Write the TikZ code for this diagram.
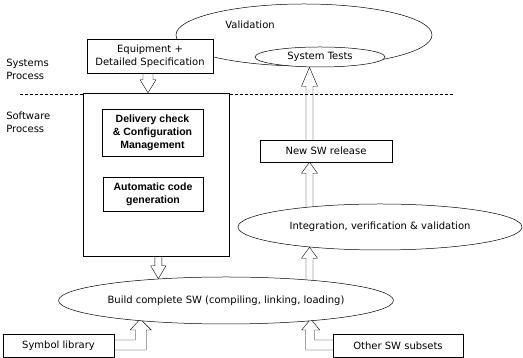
\documentclass[tikz,border=0pt]{standalone}
\usepackage{fontspec}
\setmainfont{DejaVu Sans}
\newfontfamily\boldfam{Liberation Sans}
\usetikzlibrary{shapes.geometric,backgrounds,calc}
\begin{document}
\begin{tikzpicture}[x=1pt,y=1pt,
  font=\fontsize{10}{13}\selectfont,
  line width=0.5pt,
  box/.style={draw, fill=white, rectangle, inner sep=0pt, align=center},
  ell/.style={draw, fill=white, ellipse, inner sep=0pt},
  boldbox/.style={box, font=\boldfam\bfseries\fontsize{10.5}{13}\selectfont},
  harrow/.style={draw, fill=white, line join=miter},
  lbl/.style={inner sep=0pt, align=left, anchor=west}]
\useasboundingbox (0,0) rectangle (523,358);

% labels
\node[lbl] (sysp) at (6,289) {Systems\\Process};
\node[lbl] (swp) at (6,235.5) {Software\\Process};

% validation
\node[draw, ellipse, minimum width=256, minimum height=62, inner sep=0pt] (valid) at (304,323) {};
\node[inner sep=0pt] (validtxt) at (250,333) {Validation};
\node[ell, minimum width=130, minimum height=20] (systests) at (320,301) {System Tests};
\node[box, minimum width=126, minimum height=34] (equip) at (150,302) {Equipment +\\Detailed Specification};

% dashed separator
\coordinate (dl) at (20,264);
\coordinate (dr) at (453,264);
\draw[dashed, dash pattern=on 3pt off 2pt] (dl) -- (dr);

% software box
\node[box, minimum width=146, minimum height=163] (big) at (156,183.5) {};
\node[boldbox, minimum width=101, minimum height=47] (deliv) at (152.5,225.5) {Delivery check\\\& Configuration\\Management};
\node[boldbox, minimum width=100, minimum height=34] (auto) at (153,164) {Automatic code\\generation};

% other nodes
\node[ell, minimum width=288, minimum height=47] (build) at (226,57.5) {Build complete SW (compiling, linking, loading)};
\node[ell, minimum width=284, minimum height=46] (integ) at (380,131) {Integration, verification \& validation};
\node[box, minimum width=132, minimum height=22] (newsw) at (326,207) {New SW release};
\node[box, minimum width=111, minimum height=23] (symlib) at (58.5,12.5) {Symbol library};
\node[box, minimum width=130, minimum height=23] (other) at (398,12.5) {Other SW subsets};

\begin{pgfonlayer}{background}
% equip -> big (down)
\draw[harrow] let \p1=($(equip.south)+(-2,0)$), \p2=($(big.north)+(-8,0)$) in
  (\x1-5,\y1) -- (\x1-5,\y2+13) -- (\x1-8,\y2+13) -- (\x1,\y2) -- (\x1+8,\y2+13) -- (\x1+5,\y2+13) -- (\x1+5,\y1);
% big -> build (down)
\draw[harrow] let \p1=($(big.south)+(2.3,0)$), \p2=($(build.north)+(-68,-2)$) in
  (\x1-3.5,\y1) -- (\x1-3.5,\y2+13) -- (\x1-7.7,\y2+13) -- (\x1,\y2) -- (\x1+7.7,\y2+13) -- (\x1+3.5,\y2+13) -- (\x1+3.5,\y1);
% build -> integ (up)
\draw[harrow] let \p1=($(build.north)+(83.5,-5)$), \p2=($(integ.south)+(-70.5,3)$) in
  (\x1-3.5,\y1) -- (\x1-3.5,\y2-11) -- (\x1-8,\y2-11) -- (\x1,\y2) -- (\x1+8,\y2-11) -- (\x1+3.5,\y2-11) -- (\x1+3.5,\y1);
% integ -> newsw (up)
\draw[harrow] let \p1=($(integ.north)+(-70.5,-5)$), \p2=($(newsw.south)+(-16.5,0)$) in
  (\x1-3.5,\y1) -- (\x1-3.5,\y2-11) -- (\x1-8,\y2-11) -- (\x1,\y2) -- (\x1+8,\y2-11) -- (\x1+3.5,\y2-11) -- (\x1+3.5,\y1);
% newsw -> systests (up)
\draw[harrow] let \p1=($(newsw.north)+(-16.5,-2)$), \p2=($(systests.south)+(-10.5,0)$) in
  (\x1-3.5,\y1) -- (\x1-3.5,\y2-19) -- (\x1-8,\y2-19) -- (\x1,\y2) -- (\x1+8,\y2-19) -- (\x1+3.5,\y2-19) -- (\x1+3.5,\y1);
% symbol library -> build (elbow)
\draw[harrow] let \p1=($(symlib.east)+(-1,0)$) in
  (\x1,\y1-4.5) -- (\x1+33,\y1-4.5) -- (\x1+33,\y1+15.5) -- (\x1+38,\y1+15.5) -- (\x1+27,\y1+26.5)
  -- (\x1+17,\y1+15.5) -- (\x1+22,\y1+15.5) -- (\x1+22,\y1+5.5) -- (\x1,\y1+5.5);
% other subsets -> build (elbow)
\draw[harrow] let \p1=($(other.west)+(1,0)$) in
  (\x1,\y1-4.5) -- (\x1-28,\y1-4.5) -- (\x1-28,\y1+15.5) -- (\x1-32,\y1+15.5) -- (\x1-23,\y1+26.5)
  -- (\x1-14,\y1+15.5) -- (\x1-19,\y1+15.5) -- (\x1-19,\y1+5.5) -- (\x1,\y1+5.5);
\end{pgfonlayer}
\end{tikzpicture}
\end{document}
